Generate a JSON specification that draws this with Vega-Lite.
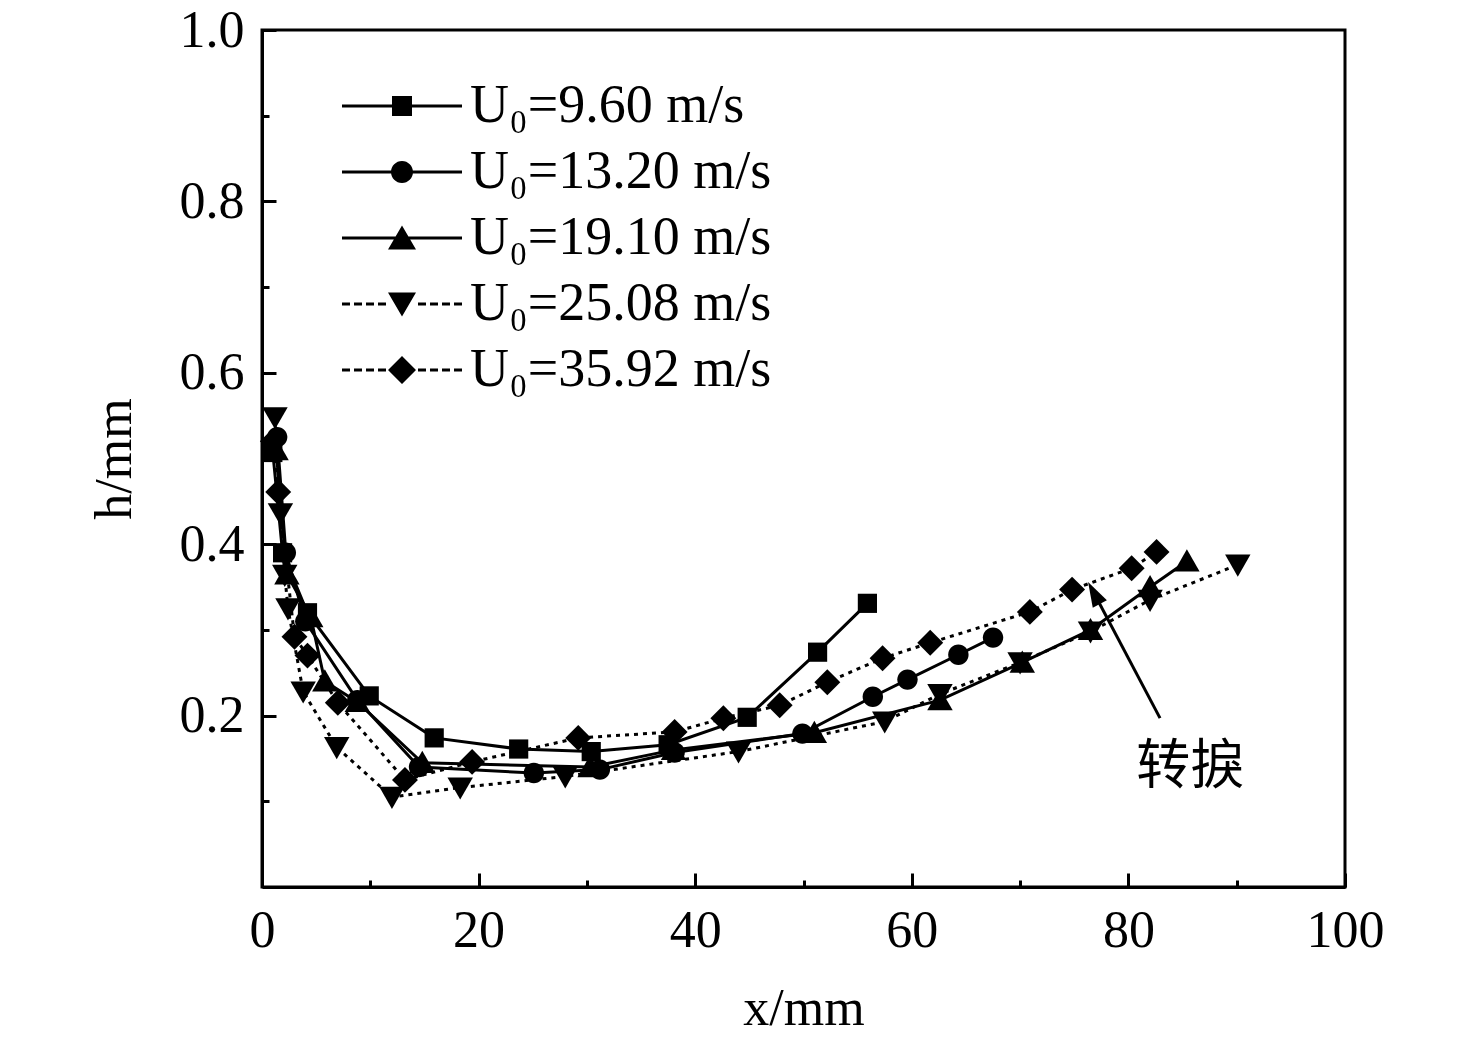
{
  "$schema": "https://vega.github.io/schema/vega-lite/v6.json",
  "width": 1083,
  "height": 857,
  "autosize": {"type": "none"},
  "padding": {"left": 262, "top": 30, "right": 131, "bottom": 156},
  "background": "white",
  "config": {
    "view": {"stroke": "black", "strokeWidth": 3},
    "font": "Liberation Serif",
    "axis": {
      "grid": false,
      "domainColor": "black",
      "domainWidth": 3,
      "tickColor": "black",
      "tickWidth": 3,
      "labelColor": "black",
      "labelFont": "Liberation Serif",
      "labelFontSize": 52,
      "labelFlush": false,
      "labelOverlap": false,
      "titleColor": "black",
      "titleFont": "Liberation Serif",
      "titleFontSize": 52,
      "titleFontWeight": "normal"
    }
  },
  "datasets": {
    "curves": [
      {"s": "U₀=9.60 m/s", "o": 1, "x": 1.0, "h": 0.507},
      {"s": "U₀=9.60 m/s", "o": 2, "x": 1.9, "h": 0.39},
      {"s": "U₀=9.60 m/s", "o": 3, "x": 4.2, "h": 0.32},
      {"s": "U₀=9.60 m/s", "o": 4, "x": 9.9, "h": 0.223},
      {"s": "U₀=9.60 m/s", "o": 5, "x": 15.9, "h": 0.174},
      {"s": "U₀=9.60 m/s", "o": 6, "x": 23.7, "h": 0.161},
      {"s": "U₀=9.60 m/s", "o": 7, "x": 30.4, "h": 0.158},
      {"s": "U₀=9.60 m/s", "o": 8, "x": 37.5, "h": 0.166},
      {"s": "U₀=9.60 m/s", "o": 9, "x": 44.8, "h": 0.198},
      {"s": "U₀=9.60 m/s", "o": 10, "x": 51.3, "h": 0.274},
      {"s": "U₀=9.60 m/s", "o": 11, "x": 55.9, "h": 0.331},
      {"s": "U₀=13.20 m/s", "o": 1, "x": 1.4, "h": 0.525},
      {"s": "U₀=13.20 m/s", "o": 2, "x": 2.2, "h": 0.39},
      {"s": "U₀=13.20 m/s", "o": 3, "x": 4.0, "h": 0.31},
      {"s": "U₀=13.20 m/s", "o": 4, "x": 8.8, "h": 0.218},
      {"s": "U₀=13.20 m/s", "o": 5, "x": 14.5, "h": 0.14},
      {"s": "U₀=13.20 m/s", "o": 6, "x": 25.1, "h": 0.133},
      {"s": "U₀=13.20 m/s", "o": 7, "x": 31.2, "h": 0.137},
      {"s": "U₀=13.20 m/s", "o": 8, "x": 38.1, "h": 0.157},
      {"s": "U₀=13.20 m/s", "o": 9, "x": 49.9, "h": 0.179},
      {"s": "U₀=13.20 m/s", "o": 10, "x": 56.4, "h": 0.222},
      {"s": "U₀=13.20 m/s", "o": 11, "x": 59.6, "h": 0.242},
      {"s": "U₀=13.20 m/s", "o": 12, "x": 64.3, "h": 0.271},
      {"s": "U₀=13.20 m/s", "o": 13, "x": 67.5, "h": 0.291},
      {"s": "U₀=19.10 m/s", "o": 1, "x": 1.3, "h": 0.51},
      {"s": "U₀=19.10 m/s", "o": 2, "x": 2.3, "h": 0.365},
      {"s": "U₀=19.10 m/s", "o": 3, "x": 4.5, "h": 0.315},
      {"s": "U₀=19.10 m/s", "o": 4, "x": 5.8, "h": 0.24},
      {"s": "U₀=19.10 m/s", "o": 5, "x": 8.8, "h": 0.216},
      {"s": "U₀=19.10 m/s", "o": 6, "x": 14.8, "h": 0.145},
      {"s": "U₀=19.10 m/s", "o": 7, "x": 30.3, "h": 0.14},
      {"s": "U₀=19.10 m/s", "o": 8, "x": 38.0, "h": 0.16},
      {"s": "U₀=19.10 m/s", "o": 9, "x": 51.0, "h": 0.18},
      {"s": "U₀=19.10 m/s", "o": 10, "x": 62.6, "h": 0.218},
      {"s": "U₀=19.10 m/s", "o": 11, "x": 70.2, "h": 0.262},
      {"s": "U₀=19.10 m/s", "o": 12, "x": 76.5, "h": 0.3},
      {"s": "U₀=19.10 m/s", "o": 13, "x": 82.0, "h": 0.35},
      {"s": "U₀=19.10 m/s", "o": 14, "x": 85.4, "h": 0.38},
      {"s": "U₀=25.08 m/s", "o": 1, "x": 1.2, "h": 0.548},
      {"s": "U₀=25.08 m/s", "o": 2, "x": 1.7, "h": 0.436},
      {"s": "U₀=25.08 m/s", "o": 3, "x": 2.1, "h": 0.364},
      {"s": "U₀=25.08 m/s", "o": 4, "x": 2.4, "h": 0.325},
      {"s": "U₀=25.08 m/s", "o": 5, "x": 3.8, "h": 0.228},
      {"s": "U₀=25.08 m/s", "o": 6, "x": 6.9, "h": 0.163},
      {"s": "U₀=25.08 m/s", "o": 7, "x": 12.0, "h": 0.105},
      {"s": "U₀=25.08 m/s", "o": 8, "x": 18.3, "h": 0.116},
      {"s": "U₀=25.08 m/s", "o": 9, "x": 28.0, "h": 0.129},
      {"s": "U₀=25.08 m/s", "o": 10, "x": 44.0, "h": 0.158},
      {"s": "U₀=25.08 m/s", "o": 11, "x": 57.5, "h": 0.193},
      {"s": "U₀=25.08 m/s", "o": 12, "x": 62.6, "h": 0.225},
      {"s": "U₀=25.08 m/s", "o": 13, "x": 70.0, "h": 0.262},
      {"s": "U₀=25.08 m/s", "o": 14, "x": 76.5, "h": 0.298},
      {"s": "U₀=25.08 m/s", "o": 15, "x": 82.0, "h": 0.335},
      {"s": "U₀=25.08 m/s", "o": 16, "x": 90.1, "h": 0.376},
      {"s": "U₀=35.92 m/s", "o": 1, "x": 1.0, "h": 0.52},
      {"s": "U₀=35.92 m/s", "o": 2, "x": 1.5, "h": 0.461},
      {"s": "U₀=35.92 m/s", "o": 3, "x": 3.0, "h": 0.292},
      {"s": "U₀=35.92 m/s", "o": 4, "x": 4.2, "h": 0.27},
      {"s": "U₀=35.92 m/s", "o": 5, "x": 7.0, "h": 0.215},
      {"s": "U₀=35.92 m/s", "o": 6, "x": 13.2, "h": 0.125},
      {"s": "U₀=35.92 m/s", "o": 7, "x": 19.4, "h": 0.146},
      {"s": "U₀=35.92 m/s", "o": 8, "x": 29.2, "h": 0.174},
      {"s": "U₀=35.92 m/s", "o": 9, "x": 38.1, "h": 0.181},
      {"s": "U₀=35.92 m/s", "o": 10, "x": 42.6, "h": 0.197},
      {"s": "U₀=35.92 m/s", "o": 11, "x": 47.8, "h": 0.212},
      {"s": "U₀=35.92 m/s", "o": 12, "x": 52.2, "h": 0.239},
      {"s": "U₀=35.92 m/s", "o": 13, "x": 57.3, "h": 0.267},
      {"s": "U₀=35.92 m/s", "o": 14, "x": 61.7, "h": 0.285},
      {"s": "U₀=35.92 m/s", "o": 15, "x": 70.9, "h": 0.321},
      {"s": "U₀=35.92 m/s", "o": 16, "x": 74.8, "h": 0.347},
      {"s": "U₀=35.92 m/s", "o": 17, "x": 80.3, "h": 0.372},
      {"s": "U₀=35.92 m/s", "o": 18, "x": 82.6, "h": 0.391}
    ],
    "arrow": [{"x": 82.92, "h": 0.197, "x2": 76.82, "h2": 0.343}],
    "arrowhead": [{"x": 76.82, "h": 0.343}],
    "note": [{"x": 85.7, "h": 0.139, "label": "转捩"}]
  },
  "resolve": {"scale": {"shape": "independent"}, "legend": {"shape": "independent"}},
  "encoding": {
    "x": {
      "field": "x",
      "type": "quantitative",
      "title": "x/mm",
      "scale": {"domain": [0, 100], "nice": false},
      "axis": {
        "values": [0, 10, 20, 30, 40, 50, 60, 70, 80, 90, 100],
        "labelExpr": "datum.value % 20 === 0 ? datum.label : ''",
        "tickSize": {"condition": {"test": "datum.value % 20 === 0", "value": -14}, "value": -7},
        "labelPadding": 32,
        "titlePadding": 20
      }
    },
    "y": {
      "field": "h",
      "type": "quantitative",
      "title": "h/mm",
      "scale": {"domain": [0, 1], "nice": false},
      "axis": {
        "values": [0.1, 0.2, 0.3, 0.4, 0.5, 0.6, 0.7, 0.8, 0.9, 1.0],
        "format": ".1f",
        "labelExpr": "round(datum.value * 10) % 2 === 0 ? datum.label : ''",
        "tickSize": {"condition": {"test": "round(datum.value * 10) % 2 === 0", "value": -14}, "value": -7},
        "labelPadding": 32,
        "titlePadding": 38
      }
    }
  },
  "layer": [
    {
      "data": {"name": "curves"},
      "transform": [{"filter": "datum.s === 'U₀=9.60 m/s' || datum.s === 'U₀=13.20 m/s' || datum.s === 'U₀=19.10 m/s'"}],
      "mark": {"type": "line", "color": "black", "strokeWidth": 3},
      "encoding": {
        "order": {"field": "o", "type": "quantitative"},
        "detail": {"field": "s", "type": "nominal"}
      }
    },
    {
      "data": {"name": "curves"},
      "transform": [{"filter": "datum.s === 'U₀=25.08 m/s' || datum.s === 'U₀=35.92 m/s'"}],
      "mark": {"type": "line", "color": "black", "strokeWidth": 3, "strokeDash": [4, 5]},
      "encoding": {
        "order": {"field": "o", "type": "quantitative"},
        "detail": {"field": "s", "type": "nominal"}
      }
    },
    {
      "data": {"name": "curves"},
      "mark": {"type": "point", "filled": true, "color": "black", "opacity": 1, "size": 576},
      "encoding": {
        "shape": {
          "field": "s",
          "type": "nominal",
          "scale": {
            "domain": ["U₀=9.60 m/s", "U₀=13.20 m/s", "U₀=19.10 m/s", "U₀=25.08 m/s", "U₀=35.92 m/s"],
            "range": [
              "M-0.8,-0.8H0.8V0.8H-0.8Z",
              "M-0.85,0A0.85,0.85,0,1,1,0.85,0A0.85,0.85,0,1,1,-0.85,0Z",
              "M0,-1L1.06,0.85L-1.06,0.85Z",
              "M0,1L1.06,-0.85L-1.06,-0.85Z",
              "M0,-1.08L1.08,0L0,1.08L-1.08,0Z"
            ]
          },
          "legend": null
        }
      }
    },
    {
      "data": {"name": "curves"},
      "transform": [{"filter": "datum.o < 0"}],
      "mark": {"type": "point", "filled": true, "color": "black", "opacity": 1},
      "encoding": {
        "shape": {
          "field": "s",
          "type": "nominal",
          "title": null,
          "scale": {
            "domain": ["U₀=9.60 m/s", "U₀=13.20 m/s", "U₀=19.10 m/s", "U₀=25.08 m/s", "U₀=35.92 m/s"],
            "range": [
              "M-2.4,-0.06H2.4V0.06H-2.4ZM-0.4,-0.4H0.4V0.4H-0.4Z",
              "M-2.4,-0.06H2.4V0.06H-2.4ZM-0.44,0A0.44,0.44,0,1,1,0.44,0A0.44,0.44,0,1,1,-0.44,0Z",
              "M-2.4,-0.06H2.4V0.06H-2.4ZM0,-0.5L0.56,0.46L-0.56,0.46Z",
              "M-2.4,-0.06H-2.08V0.06H-2.4ZM-1.92,-0.06H-1.6V0.06H-1.92ZM-1.44,-0.06H-1.12V0.06H-1.44ZM-0.96,-0.06H-0.64V0.06H-0.96ZM0.64,-0.06H0.96V0.06H0.64ZM1.12,-0.06H1.44V0.06H1.12ZM1.6,-0.06H1.92V0.06H1.6ZM2.08,-0.06H2.4V0.06H2.08ZM0,0.5L-0.56,-0.46L0.56,-0.46Z",
              "M-2.4,-0.06H-2.08V0.06H-2.4ZM-1.92,-0.06H-1.6V0.06H-1.92ZM-1.44,-0.06H-1.12V0.06H-1.44ZM-0.96,-0.06H-0.64V0.06H-0.96ZM0.64,-0.06H0.96V0.06H0.64ZM1.12,-0.06H1.44V0.06H1.12ZM1.6,-0.06H1.92V0.06H1.6ZM2.08,-0.06H2.4V0.06H2.08ZM0,-0.56L0.56,0L0,0.56L-0.56,0Z"
            ]
          },
          "legend": {
            "orient": "none",
            "legendX": 113,
            "legendY": 49,
            "padding": 0,
            "symbolSize": 2500,
            "symbolFillColor": "black",
            "symbolOpacity": 1,
            "labelOffset": 41,
            "labelFont": "Liberation Serif",
            "labelFontSize": 54,
            "labelColor": "black",
            "labelLimit": 600,
            "rowPadding": 12
          }
        }
      }
    },
    {
      "data": {"name": "arrow"},
      "mark": {"type": "rule", "color": "black", "strokeWidth": 3},
      "encoding": {
        "x2": {"field": "x2"},
        "y2": {"field": "h2"}
      }
    },
    {
      "data": {"name": "arrowhead"},
      "mark": {"type": "point", "shape": "M0,-1L0.64,1L-0.64,1Z", "filled": true, "color": "black", "opacity": 1, "size": 625, "angle": -28}
    },
    {
      "data": {"name": "note"},
      "mark": {"type": "text", "font": "Noto Sans CJK SC", "fontSize": 54, "color": "black", "align": "center", "baseline": "middle"},
      "encoding": {"text": {"field": "label"}}
    }
  ]
}
